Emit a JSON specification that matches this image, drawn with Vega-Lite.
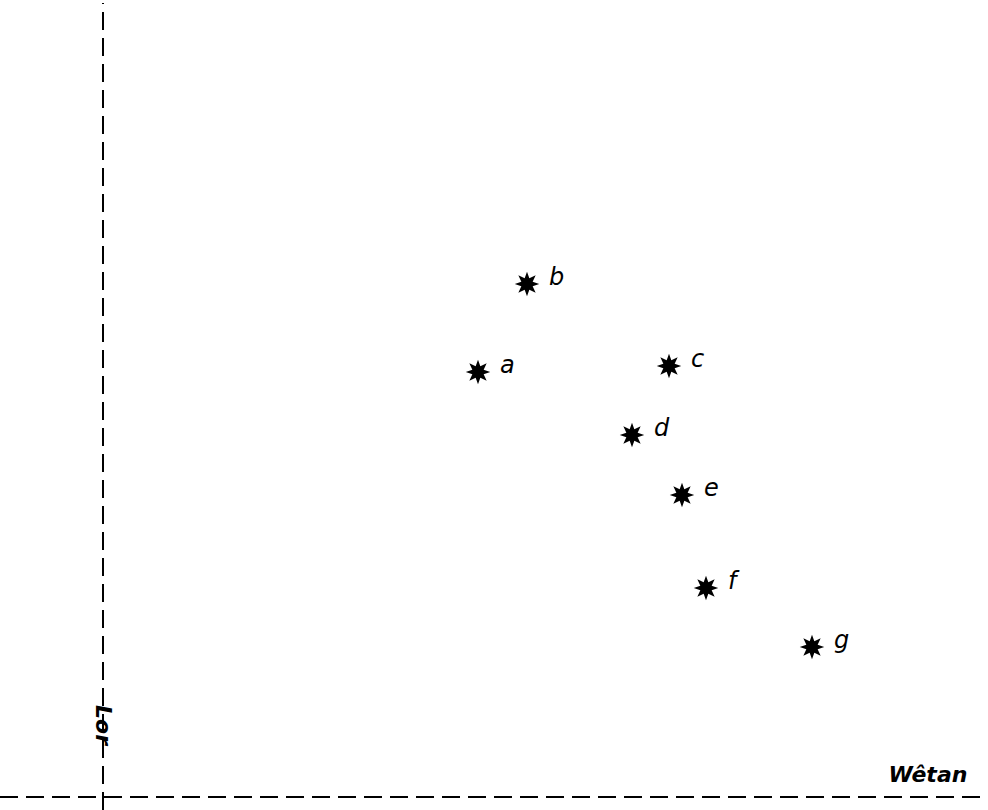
{
  "$schema": "https://vega.github.io/schema/vega-lite/v6.json",
  "autosize": {"type": "none"},
  "width": 988,
  "height": 810,
  "padding": 0,
  "background": "white",
  "config": {"view": {"stroke": null}},
  "datasets": {
    "stars": [
      {"x": 375, "y": 425, "label": "a"},
      {"x": 424, "y": 513, "label": "b"},
      {"x": 566, "y": 431, "label": "c"},
      {"x": 529, "y": 362, "label": "d"},
      {"x": 579, "y": 302, "label": "e"},
      {"x": 603, "y": 209, "label": "f"},
      {"x": 709, "y": 150, "label": "g"}
    ],
    "axes": [
      {"x": 0, "y": -13, "x2": 0, "y2": 794, "dir": "v"},
      {"x": -103, "y": 0, "x2": 885, "y2": 0, "dir": "h"}
    ],
    "names": [
      {"x": 825, "y": 22, "text": "Wêtan", "angle": 0},
      {"x": 0, "y": 72, "text": "Lor", "angle": 90}
    ]
  },
  "layer": [
    {
      "data": {"name": "axes"},
      "mark": {"type": "rule", "color": "black", "strokeWidth": 2, "strokeDash": [18, 8]},
      "encoding": {
        "x": {"field": "x", "type": "quantitative", "scale": {"domain": [-103, 885], "nice": false, "zero": false}, "axis": null},
        "y": {"field": "y", "type": "quantitative", "scale": {"domain": [-13, 797], "nice": false, "zero": false}, "axis": null},
        "x2": {"field": "x2"},
        "y2": {"field": "y2"}
      }
    },
    {
      "data": {"name": "stars"},
      "mark": {"type": "point", "filled": true, "color": "black", "opacity": 1, "size": 600,
        "shape": "M0,-1L0.191,-0.462L0.707,-0.707L0.462,-0.191L1,0L0.462,0.191L0.707,0.707L0.191,0.462L0,1L-0.191,0.462L-0.707,0.707L-0.462,0.191L-1,0L-0.462,-0.191L-0.707,-0.707L-0.191,-0.462Z"},
      "encoding": {
        "x": {"field": "x", "type": "quantitative"},
        "y": {"field": "y", "type": "quantitative"}
      }
    },
    {
      "data": {"name": "stars"},
      "mark": {"type": "text", "align": "left", "baseline": "middle", "dx": 22, "dy": -6, "fontSize": 24, "fontStyle": "italic", "font": "DejaVu Sans", "color": "black"},
      "encoding": {
        "x": {"field": "x", "type": "quantitative"},
        "y": {"field": "y", "type": "quantitative"},
        "text": {"field": "label"}
      }
    },
    {
      "data": {"name": "names"},
      "mark": {"type": "text", "align": "center", "baseline": "middle", "fontSize": 22, "fontStyle": "italic", "fontWeight": "bold", "font": "DejaVu Sans", "color": "black"},
      "encoding": {
        "x": {"field": "x", "type": "quantitative"},
        "y": {"field": "y", "type": "quantitative"},
        "text": {"field": "text"},
        "angle": {"field": "angle", "type": "quantitative", "scale": null}
      }
    }
  ]
}
